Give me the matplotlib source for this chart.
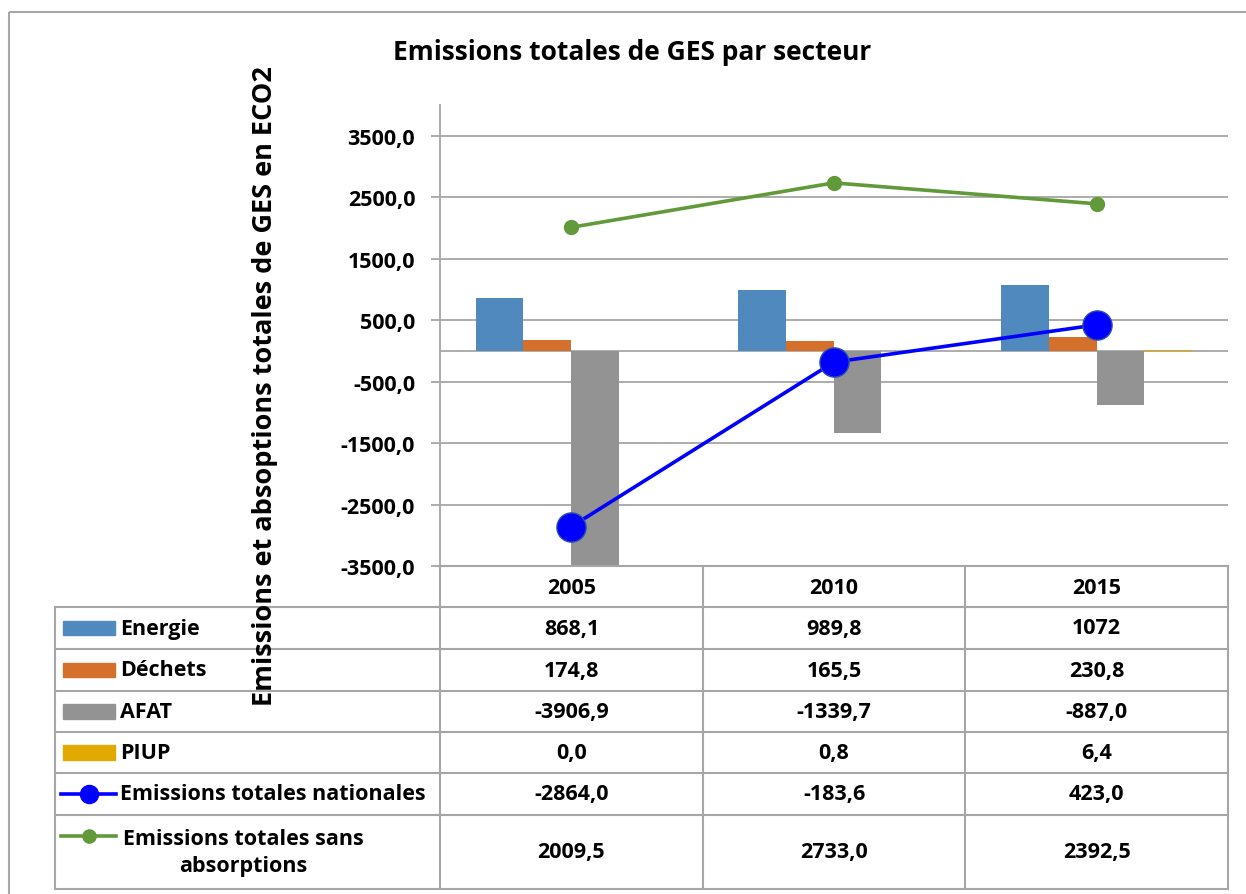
import numpy as np
import matplotlib.pyplot as plt
from matplotlib.patches import Rectangle
from matplotlib.lines import Line2D

plt.rcParams['font.family'] = ['Open Sans', 'DejaVu Sans']
plt.rcParams['font.weight'] = 'bold'

# data
years = ['2005', '2010', '2015']
energie = [868.1, 989.8, 1072]
dechets = [174.8, 165.5, 230.8]
afat = [-3906.9, -1339.7, -887.0]
piup = [0.0, 0.8, 6.4]
total_nat = [-2864.0, -183.6, 423.0]
total_sans = [2009.5, 2733.0, 2392.5]

bar_names = ['Energie', 'Déchets', 'AFAT', 'PIUP']
bar_series = [energie, dechets, afat, piup]
bar_colors = ['#4F89BD', '#D4702B', '#939393', '#E2AA00']
blue = '#0000FF'
green = '#62993A'
grey = '#A6A6A6'

W, H = 1246, 895
fig = plt.figure(figsize=(W / 100, H / 100), dpi=100)


def frac(x0, y0, x1, y1):
    return [x0 / W, 1 - y1 / H, (x1 - x0) / W, (y1 - y0) / H]


# chart area
ax = fig.add_axes(frac(439.5, 106, 1228, 567))
x = np.arange(len(years))
bw = 0.1815
for i, (vals, col) in enumerate(zip(bar_series, bar_colors)):
    ax.bar(x + (i - 1.5) * bw, vals, bw, color=col, zorder=2)
ax.plot(x, total_sans, color=green, lw=2.6, marker='o', ms=10, zorder=4, clip_on=False)
ax.plot(x, total_nat, color=blue, lw=2.6, marker='o', ms=21, mec='#2A4FA8', mew=1,
        zorder=5, clip_on=False)
ax.set_xlim(-0.5, 2.5)
ax.set_ylim(-3500, 4000)
ax.set_yticks(np.arange(-3500, 3501, 1000))
ax.yaxis.set_major_formatter(lambda v, p: f"{v:.1f}".replace('.', ','))
ax.set_xticks([])
ax.grid(axis='y', color=grey, lw=1.3, zorder=0)
ax.axhline(0, color=grey, lw=1.3, zorder=1)
for s in ['top', 'right', 'bottom']:
    ax.spines[s].set_visible(False)
ax.spines['left'].set_color(grey)
ax.spines['left'].set_linewidth(1.3)
ax.tick_params(axis='y', length=6.5, width=1.3, color=grey, labelsize=15.5, pad=11)
for t in ax.get_yticklabels():
    t.set_fontweight('bold')

# overlay in pixel coords for title, label, table
ov = fig.add_axes([0, 0, 1, 1])
ov.set_xlim(0, W)
ov.set_ylim(H, 0)
ov.axis('off')

ov.add_patch(Rectangle((8.5, 13), 1250, 900, fill=False, ec=grey, lw=1.5))
ov.text(632, 52, 'Emissions totales de GES par secteur', ha='center', va='center',
        fontsize=19, fontweight='bold')
ov.text(265, 386, 'Emissions et absoptions totales de GES en ECO2', rotation=90,
        ha='center', va='center', fontsize=19.5, fontweight='bold')

cols = [440, 702.8, 965.4, 1228]
rows = [608, 650, 692, 733, 774, 816, 890]
lc = dict(color=grey, lw=1.5)
ov.plot([440, 1228], [567, 567], **lc)
for yy in rows:
    ov.plot([55, 1228], [yy, yy], **lc)
ov.plot([55, 55], [608, 890], **lc)
for xx in cols:
    ov.plot([xx, xx], [567, 890], **lc)


def fr_fixed(v):
    return f"{v:.1f}".replace('.', ',')


def fr_general(v):
    return f"{v:g}".replace('.', ',')


tk = dict(fontsize=15.5, fontweight='bold', va='center')
centers = [(cols[i] + cols[i + 1]) / 2 for i in range(3)]
for c, yr in zip(centers, years):
    ov.text(c, 588, yr, ha='center', **tk)

row_mid = [(rows[i] + rows[i + 1]) / 2 for i in range(len(rows) - 1)]
fmts = [fr_general, fr_fixed, fr_fixed, fr_fixed, fr_fixed, fr_fixed]
all_series = bar_series + [total_nat, total_sans]
for ym, vals, f in zip(row_mid, all_series, fmts):
    for c, v in zip(centers, vals):
        ov.text(c, ym, f(v), ha='center', **tk)

# row headers with legend keys
for ym, name, col in zip(row_mid[:4], bar_names, bar_colors):
    ov.add_patch(Rectangle((63, ym - 7.3), 52, 14.6, color=col))
    ov.text(120, ym, name, ha='left', **tk)

key_y = [row_mid[4], 837]
for ky, col, ms in [(key_y[0], blue, 13), (key_y[1], green, 9.5)]:
    ov.add_line(Line2D([61, 116], [ky, ky], color=col, lw=2.6))
    ov.add_line(Line2D([88.5], [ky], color=col, marker='o', ms=ms))
ov.text(120, row_mid[4], 'Emissions totales nationales', ha='left', **tk)
ov.text(243, row_mid[5], 'Emissions totales sans\nabsorptions', ha='center',
        linespacing=1.35, **tk)
fig.savefig('out.png', dpi=100)
